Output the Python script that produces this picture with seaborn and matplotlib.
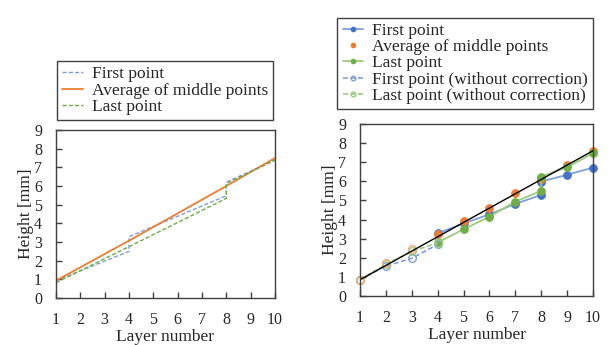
import matplotlib
matplotlib.use("Agg")
import matplotlib.pyplot as plt
import seaborn as sns

# ---- data ----
layers = list(range(1, 11))

# left panel: piecewise lines, jumps at layer 4 and 8
left_first_x = [1, 4, 4, 8, 8, 10]
left_first_y = [0.93, 2.50, 3.28, 5.48, 6.20, 7.40]
left_avg_x = [1, 4, 8, 10]
left_avg_y = [0.93, 3.07, 6.00, 7.50]
left_last_x = [1, 4, 8, 8, 10]
left_last_y = [0.82, 2.75, 5.34, 6.14, 7.38]

# right panel: measured points
first_x = [4, 5, 6, 7, 8, 8, 9, 10]
first_y = [3.28, 3.80, 4.27, 4.82, 5.29, 5.99, 6.34, 6.72]
last_x = [4, 5, 6, 7, 8, 8, 9, 10]
last_y = [2.80, 3.49, 4.15, 4.94, 5.50, 6.25, 6.74, 7.47]
avg_x = [4, 5, 6, 7, 8, 9, 10]
avg_y = [3.25, 3.93, 4.62, 5.37, 6.12, 6.86, 7.59]
avg_nc_x = [1, 2, 3]
avg_nc_y = [0.85, 1.71, 2.44]
first_nc_x = [1, 2, 3, 4]
first_nc_y = [0.85, 1.57, 1.97, 2.70]
last_nc_x = [1, 2, 3, 4]
last_nc_y = [0.85, 1.65, 2.33, 2.78]
fit_x = [1, 10]
fit_y = [0.85, 7.60]

BLUE = "#4472C4"
ORANGE = "#ED7D31"
GREEN = "#70AD47"
BLUE_L = "#7F9FDB"
GREEN_L = "#9CCB7E"

sns.set_style("ticks", {"xtick.direction": "in", "ytick.direction": "in"})
plt.rcParams["font.family"] = ["Liberation Serif", "DejaVu Serif"]
plt.rcParams["axes.edgecolor"] = "#404040"
plt.rcParams["axes.linewidth"] = 1.0

fig = plt.figure(figsize=(6.09, 3.45), dpi=100)
ax1 = fig.add_axes([56 / 609, 47 / 345, 219 / 609, 168 / 345])
ax2 = fig.add_axes([360 / 609, 49 / 345, 233 / 609, 172 / 345])

# ---- left panel ----
sns.lineplot(x=left_first_x, y=left_first_y, ax=ax1, estimator=None, sort=False,
             color=BLUE_L, lw=1.0, linestyle=(0, (3, 1.5)), label="First point")
sns.lineplot(x=left_avg_x, y=left_avg_y, ax=ax1, estimator=None, sort=False,
             color=ORANGE, lw=1.3, label="Average of middle points")
sns.lineplot(x=left_last_x, y=left_last_y, ax=ax1, estimator=None, sort=False,
             color=GREEN, lw=1.0, linestyle=(0, (3, 1.5)), label="Last point")

# ---- right panel ----
sns.lineplot(x=first_x, y=first_y, ax=ax2, estimator=None, sort=False,
             color=BLUE_L, lw=1.3, marker="o", markersize=5.5,
             mfc=BLUE, mec=BLUE, label="First point", clip_on=False)
sns.lineplot(x=avg_x, y=avg_y, ax=ax2, estimator=None, sort=False,
             color=ORANGE, linestyle="none", marker="o", markersize=5.5,
             mec=ORANGE, label="Average of middle points", clip_on=False)
sns.lineplot(x=last_x, y=last_y, ax=ax2, estimator=None, sort=False,
             color=GREEN_L, lw=1.3, marker="o", markersize=5.5,
             mfc=GREEN, mec=GREEN, label="Last point", clip_on=False)
sns.lineplot(x=first_nc_x, y=first_nc_y, ax=ax2, estimator=None, sort=False,
             color=BLUE_L, lw=1.2, linestyle=(0, (3, 1.5)), marker="o", markersize=5.5,
             mfc="none", mec=BLUE_L, mew=1.0, label="First point (without correction)",
             clip_on=False)
sns.lineplot(x=last_nc_x, y=last_nc_y, ax=ax2, estimator=None, sort=False,
             color=GREEN_L, lw=1.2, linestyle=(0, (3, 1.5)), marker="o", markersize=5.5,
             mfc="none", mec=GREEN_L, mew=1.0, label="Last point (without correction)",
             clip_on=False)
sns.lineplot(x=avg_nc_x, y=avg_nc_y, ax=ax2, estimator=None, sort=False,
             color=ORANGE, linestyle="none", marker="o", markersize=5.5,
             mfc="none", mec="#F2A878", mew=1.0, clip_on=False)
sns.lineplot(x=fit_x, y=fit_y, ax=ax2, estimator=None, sort=False,
             color="black", lw=1.0)

for ax in (ax1, ax2):
    ax.set_xlim(1, 10)
    ax.set_ylim(0, 9)
    ax.set_xticks(layers)
    ax.set_yticks(range(0, 10))
    ax.tick_params(which="major", direction="in", bottom=True, left=True,
                   top=False, right=False, labelsize=11.5, length=4, width=1.0,
                   color="#404040")
    ax.tick_params(axis="x", pad=10)
    ax.tick_params(axis="y", pad=10)
    ax.set_xlabel("Layer number", fontsize=12.5, labelpad=1)
    ax.set_ylabel("Height [mm]", fontsize=12.5, labelpad=0)
    for s in ax.spines.values():
        s.set_visible(True)

leg_kw = dict(fontsize=12.5, frameon=True, fancybox=False, edgecolor="#404040",
              framealpha=1, borderpad=0.3, labelspacing=0.0, handlelength=1.2,
              handletextpad=0.5, borderaxespad=0)

h, l = ax1.get_legend_handles_labels()
leg1 = ax1.legend(h, l, loc="lower right", bbox_to_anchor=(273 / 609, 1 - 120 / 345),
                  bbox_transform=fig.transFigure, **leg_kw)
leg1.get_frame().set_linewidth(1.0)

h, l = ax2.get_legend_handles_labels()
leg2 = ax2.legend(h, l, loc="lower right", bbox_to_anchor=(593 / 609, 1 - 109 / 345),
                  bbox_transform=fig.transFigure, markerscale=0.6, **leg_kw)
leg2.get_frame().set_linewidth(1.0)

fig.savefig("out.png", dpi=100)
